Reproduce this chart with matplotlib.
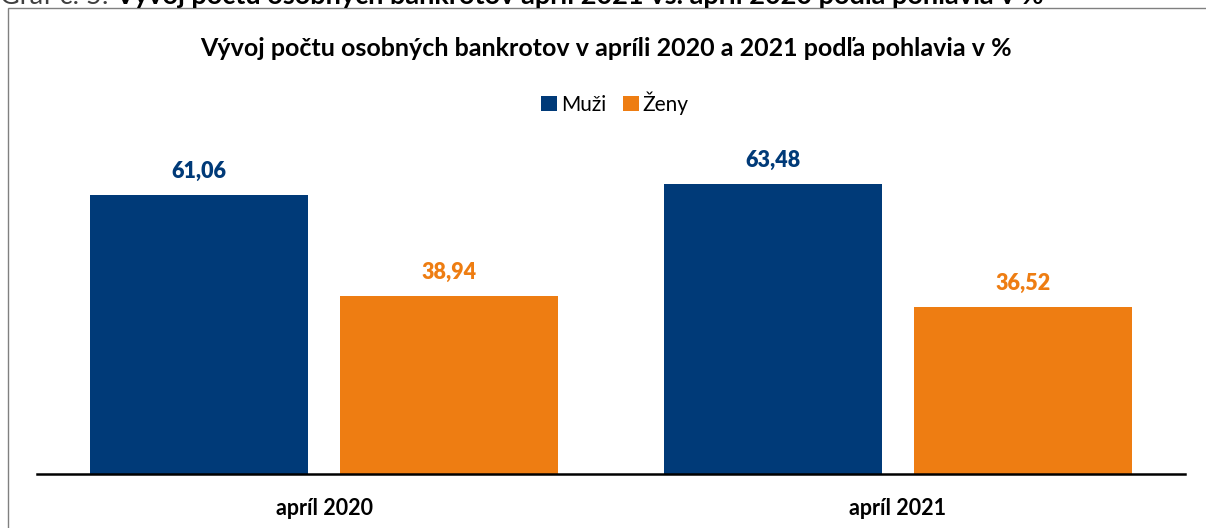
import numpy as np
import matplotlib.pyplot as plt
from matplotlib.patches import Rectangle

categories = ['apríl 2020', 'apríl 2021']
muzi = [61.06, 63.48]
zeny = [38.94, 36.52]
series_names = ['Muži', 'Ženy']

navy = '#003A78'
orange = '#EE7D12'

plt.rcParams['font.family'] = ['Lato', 'DejaVu Sans']

W, H = 1206, 528
fig = plt.figure(figsize=(W / 100, H / 100), dpi=100)

# axes placed in pixel terms
left, right, bottom, top = 37, 1185, 474, 154
ax = fig.add_axes([left / W, 1 - bottom / H, (right - left) / W, (bottom - top) / H])

x = np.arange(len(categories))
bw = 0.379
off = 0.2175
b1 = ax.bar(x - off, muzi, bw, color=navy, label=series_names[0])
b2 = ax.bar(x + off, zeny, bw, color=orange, label=series_names[1])

for bars, vals, col in [(b1, muzi, navy), (b2, zeny, orange)]:
    for r, v in zip(bars, vals):
        ax.text(r.get_x() + r.get_width() / 2, v + 2.9, f'{v:.2f}'.replace('.', ','),
                ha='center', va='bottom', color=col, fontsize=15.5, fontweight='heavy',
                clip_on=False)

ax.set_xlim(-0.5, 1.5)
ax.set_ylim(0, 70)
ax.set_yticks([])
ax.set_xticks(x)
ax.set_xticklabels(categories, fontsize=15.5, fontweight='bold')
ax.tick_params(axis='x', length=0, pad=17)
for s in ['top', 'right', 'left']:
    ax.spines[s].set_visible(False)
ax.spines['bottom'].set_linewidth(1.8)
ax.spines['bottom'].set_color('black')

fig.text(606 / W, 1 - 48 / H, 'Vývoj počtu osobných bankrotov v apríli 2020 a 2021 podľa pohlavia v %',
         ha='center', va='center', fontsize=18, fontweight='bold')

fig.legend(loc='center', bbox_to_anchor=(615 / W, 1 - 103 / H), ncol=2, frameon=False,
           fontsize=15, handlelength=0.75, handleheight=0.75, handletextpad=0.2,
           columnspacing=0.8)

# frame of the surrounding document box
fig.patches.append(Rectangle((8 / W, -0.1), 1.2, 1 - 8 / H + 0.1, transform=fig.transFigure,
                             fill=False, edgecolor='#808080', linewidth=1))

# caption cut off at the top of the image
t1 = fig.text(0, 1 - 4 / H, 'Graf č. 5:', ha='left', va='baseline', fontsize=19.5, color='#404040')
bb = t1.get_window_extent(fig.canvas.get_renderer())
fig.text((bb.x1 + 7) / W, 1 - 4 / H,
         'Vývoj počtu osobných bankrotov apríl 2021 vs. apríl 2020 podľa pohlavia v %',
         ha='left', va='baseline', fontsize=19.5, fontweight='bold')

fig.savefig('out.png', dpi=100)
